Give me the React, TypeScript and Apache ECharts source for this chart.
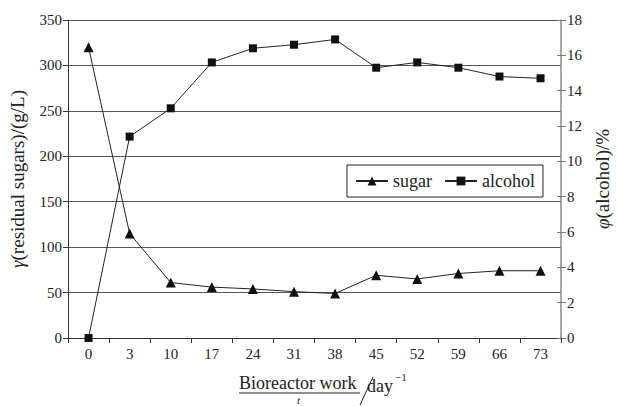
import React, { useEffect, useRef } from "react";
import * as echarts from "echarts";

const categories = ["0", "3", "10", "17", "24", "31", "38", "45", "52", "59", "66", "73"];
const sugar = [320, 115, 61, 56, 54, 51, 49, 69, 65, 71, 74, 74];
const alcohol = [0, 11.4, 13.0, 15.6, 16.4, 16.6, 16.9, 15.3, 15.6, 15.3, 14.8, 14.7];
const leftTicks = { min: 0, max: 350, interval: 50 };
const rightTicks = { min: 0, max: 18, interval: 2 };

const FONT = "Liberation Serif";

export default function App() {
  const ref = useRef<HTMLDivElement>(null);
  useEffect(() => {
    if (!ref.current) return;
    const chart = echarts.init(ref.current, undefined, { renderer: "svg" });
    chart.setOption({
      animation: false,
      backgroundColor: "#fff",
      textStyle: { fontFamily: FONT, color: "#222" },
      grid: { left: 63, right: 46, top: 20, bottom: 68 },
      legend: {
        left: 347,
        top: 165,
        orient: "horizontal",
        padding: [7, 8, 7, 8],
        borderColor: "#222",
        borderWidth: 1,
        backgroundColor: "#fff",
        itemWidth: 32,
        itemHeight: 11,
        itemGap: 12,
        textStyle: { fontFamily: FONT, fontSize: 18, color: "#222" },
        data: ["sugar", "alcohol"],
      },
      xAxis: {
        type: "category",
        data: categories,
        boundaryGap: true,
        axisLine: { lineStyle: { color: "#333", width: 1 } },
        axisTick: { show: true, length: 5, lineStyle: { color: "#333" } },
        axisLabel: { fontFamily: FONT, fontSize: 15, color: "#222", margin: 8 },
        splitLine: { show: false },
      },
      yAxis: [
        {
          type: "value",
          position: "left",
          ...leftTicks,
          axisLine: { show: true, lineStyle: { color: "#333", width: 1 } },
          axisTick: { show: true, length: 5, lineStyle: { color: "#333" } },
          axisLabel: { fontFamily: FONT, fontSize: 15, color: "#222", margin: 6 },
          splitLine: { show: true, lineStyle: { color: "#555", width: 1 } },
          name: "{i|γ}(residual sugars)/(g/L)",
          nameLocation: "middle",
          nameGap: 41,
          nameTextStyle: {
            fontFamily: FONT,
            fontSize: 19,
            color: "#222",
            rich: { i: { fontFamily: FONT, fontSize: 19, fontStyle: "italic", color: "#222" } },
          },
        },
        {
          type: "value",
          position: "right",
          ...rightTicks,
          axisLine: { show: true, lineStyle: { color: "#888", width: 1.5 } },
          axisTick: { show: true, length: 5, lineStyle: { color: "#777" } },
          axisLabel: { fontFamily: FONT, fontSize: 15, color: "#222", margin: 6 },
          splitLine: { show: false },
          name: "{i|φ}(alcohol)/%",
          nameLocation: "middle",
          nameGap: 31,
          nameRotate: 90,
          nameTextStyle: {
            fontFamily: FONT,
            fontSize: 19,
            color: "#222",
            padding: [0, 0, 6, 0],
            rich: { i: { fontFamily: FONT, fontSize: 19, fontStyle: "italic", color: "#222" } },
          },
        },
        {
          type: "value",
          position: "right",
          ...rightTicks,
          axisLine: { show: false },
          axisTick: { show: true, inside: true, length: 4, lineStyle: { color: "#777" } },
          axisLabel: { show: false },
          splitLine: { show: false },
        },
      ],
      series: [
        {
          name: "sugar",
          type: "line",
          yAxisIndex: 0,
          data: sugar,
          symbol: "triangle",
          symbolSize: 10,
          lineStyle: { color: "#222", width: 1 },
          itemStyle: { color: "#111" },
        },
        {
          name: "alcohol",
          type: "line",
          yAxisIndex: 1,
          data: alcohol,
          symbol: "rect",
          symbolSize: 8,
          lineStyle: { color: "#222", width: 1 },
          itemStyle: { color: "#111" },
        },
      ],
      graphic: [
        {
          type: "text",
          left: 239,
          top: 374,
          style: { text: "Bioreactor work", fontFamily: FONT, fontSize: 18, fill: "#222" },
        },
        {
          type: "line",
          shape: { x1: 239, y1: 393, x2: 360, y2: 393 },
          style: { stroke: "#222", lineWidth: 1 },
        },
        {
          type: "text",
          left: 297,
          top: 394,
          style: { text: "t", fontFamily: FONT, fontSize: 11, fontStyle: "italic", fill: "#222" },
        },
        {
          type: "line",
          shape: { x1: 360, y1: 405, x2: 373, y2: 377 },
          style: { stroke: "#222", lineWidth: 1 },
        },
        {
          type: "text",
          left: 367,
          top: 377,
          style: { text: "day", fontFamily: FONT, fontSize: 18, fill: "#222" },
        },
        {
          type: "text",
          left: 395,
          top: 371,
          style: { text: "−1", fontFamily: FONT, fontSize: 11, fill: "#222" },
        },
      ],
    });
    return () => chart.dispose();
  }, []);
  return (
    <div
      ref={ref}
      style={{ position: "fixed", left: 0, top: 0, width: 620, height: 406 }}
    />
  );
}
